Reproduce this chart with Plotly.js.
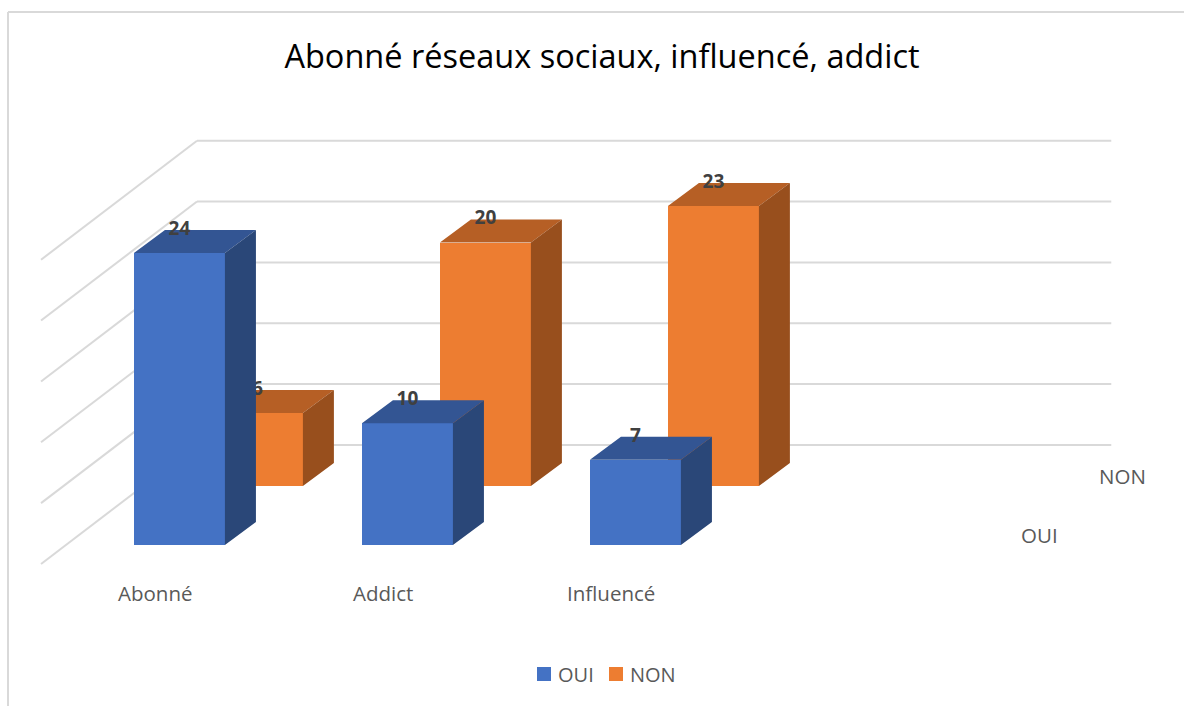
<!DOCTYPE html>
<html><head><meta charset="utf-8">
<script src="https://cdn.plot.ly/plotly-3.0.1.min.js"></script>
<style>html,body{margin:0;padding:0;background:#fff}</style></head>
<body><div id="chart" style="width:1184px;height:706px"></div>
<script>
const categories = ["Abonné", "Addict", "Influencé"];
const oui = [24, 10, 7];
const non = [6, 20, 23];
const seriesNames = ["OUI", "NON"];
const gridValues = [0, 5, 10, 15, 20, 25];

const barW = 0.399, depthX = 0.136, depthY = 1.89;
const rowX = 0.342, rowY = 4.85;
const wallLeft = -0.607, wallCorner = 0.077, wallRight = 4.087;
const wallFrontY = -1.56, wallBackY = 8.22;
const font = '"Open Sans", sans-serif';

function faces(values, shiftX, shiftY) {
  const top = {x: [], y: []}, side = {x: [], y: []};
  values.forEach((v, i) => {
    const x0 = i + shiftX - barW / 2, x1 = i + shiftX + barW / 2, b = shiftY, t = shiftY + v;
    top.x.push(x0, x1, x1 + depthX, x0 + depthX, null);
    top.y.push(t, t, t + depthY, t + depthY, null);
    side.x.push(x1, x1 + depthX, x1 + depthX, x1, null);
    side.y.push(b, b + depthY, t + depthY, t, null);
  });
  return {top, side};
}
function poly(p, color, z) {
  return {x: p.x, y: p.y, mode: 'lines', fill: 'toself', fillcolor: color, zorder: z,
    line: {width: 0, color: color}, showlegend: false, hoverinfo: 'skip'};
}
function labels(values, shiftX, shiftY, z) {
  return {x: values.map((v, i) => i + shiftX), y: values.map(v => v + shiftY + 1.88), zorder: z,
    text: values.map(String), mode: 'text', textposition: 'middle center',
    textfont: {family: font, size: 19, color: '#404040', weight: 700},
    showlegend: false, hoverinfo: 'skip'};
}
function bar(values, shiftX, shiftY, color, name, z) {
  return {type: 'bar', x: values.map((v, i) => i + shiftX), y: values, base: values.map(() => shiftY),
    width: barW, marker: {color: color}, name: name, showlegend: false, hoverinfo: 'skip', zorder: z};
}
function key(name, color, legendId) {
  return {x: [null], y: [null], mode: 'markers', name: name, legend: legendId,
    marker: {symbol: 'square', size: 14, color: color, angle: 90, standoff: 6}, hoverinfo: 'skip'};
}
const fo = faces(oui, 0, 0), fn = faces(non, rowX, rowY);
const data = [
  bar(non, rowX, rowY, '#ED7D31', seriesNames[1], 0),
  poly(fn.top, '#B65F25', 0), poly(fn.side, '#984F1D', 0),
  labels(non, rowX, rowY, 0),
  bar(oui, 0, 0, '#4472C4', seriesNames[0], 1),
  poly(fo.top, '#335593', 1), poly(fo.side, '#2A4778', 1),
  labels(oui, 0, 0, 1),
  key(seriesNames[0], '#4472C4', 'legend'), key(seriesNames[1], '#ED7D31', 'legend2')
];
const gridShapes = [];
gridValues.forEach(v => {
  const line = {type: 'line', xref: 'x', yref: 'y', layer: 'below', line: {color: '#D9D9D9', width: 2}};
  gridShapes.push(Object.assign({}, line, {x0: wallLeft, y0: wallFrontY + v, x1: wallCorner, y1: wallBackY + v}));
  gridShapes.push(Object.assign({}, line, {x0: wallCorner, y0: wallBackY + v, x1: wallRight, y1: wallBackY + v}));
});
const frame = {type: 'line', xref: 'paper', yref: 'paper', layer: 'below', line: {color: '#D9D9D9', width: 2}};
gridShapes.push(Object.assign({}, frame, {x0: 8 / 1184, y0: 1 - 12 / 706, x1: 8 / 1184, y1: 0}));
gridShapes.push(Object.assign({}, frame, {x0: 8 / 1184, y0: 1 - 12 / 706, x1: 1, y1: 1 - 12 / 706}));

const axisText = {family: font, size: 20.5, color: '#595959'};
const annotations = categories.map((c, i) => ({x: i - 0.105, y: -3.94, text: c, showarrow: false,
  xanchor: 'center', yanchor: 'middle', font: axisText}));
annotations.push({x: 3.772, y: 0.82, text: seriesNames[0], showarrow: false, xanchor: 'center', yanchor: 'middle', font: axisText});
annotations.push({x: 4.136, y: 5.67, text: seriesNames[1], showarrow: false, xanchor: 'center', yanchor: 'middle', font: axisText});

const legendBase = {orientation: 'h', xanchor: 'left', y: 1 - 674 / 706, yanchor: 'middle',
  font: {family: font, size: 20, color: '#595959'}, itemwidth: 30, bgcolor: 'rgba(0,0,0,0)'};
Plotly.newPlot('chart', data, {
  width: 1184, height: 706, margin: {l: 0, r: 0, t: 0, b: 0, pad: 0},
  paper_bgcolor: '#fff', plot_bgcolor: 'rgba(0,0,0,0)',
  barmode: 'overlay', bargap: 0,
  xaxis: {visible: false, range: [-0.787, 4.406], fixedrange: true},
  yaxis: {visible: false, range: [-13.23, 44.78], fixedrange: true},
  title: {text: 'Abonné réseaux sociaux, influencé, addict', x: 602 / 1184, xanchor: 'center',
    y: 1 - 57 / 706, yanchor: 'middle', font: {family: font, size: 32.5, color: '#000'}},
  legend: Object.assign({}, legendBase, {x: 518 / 1184}),
  legend2: Object.assign({}, legendBase, {x: 590 / 1184}),
  shapes: gridShapes, annotations: annotations, hovermode: false
}, {displayModeBar: false, staticPlot: true});
</script></body></html>
